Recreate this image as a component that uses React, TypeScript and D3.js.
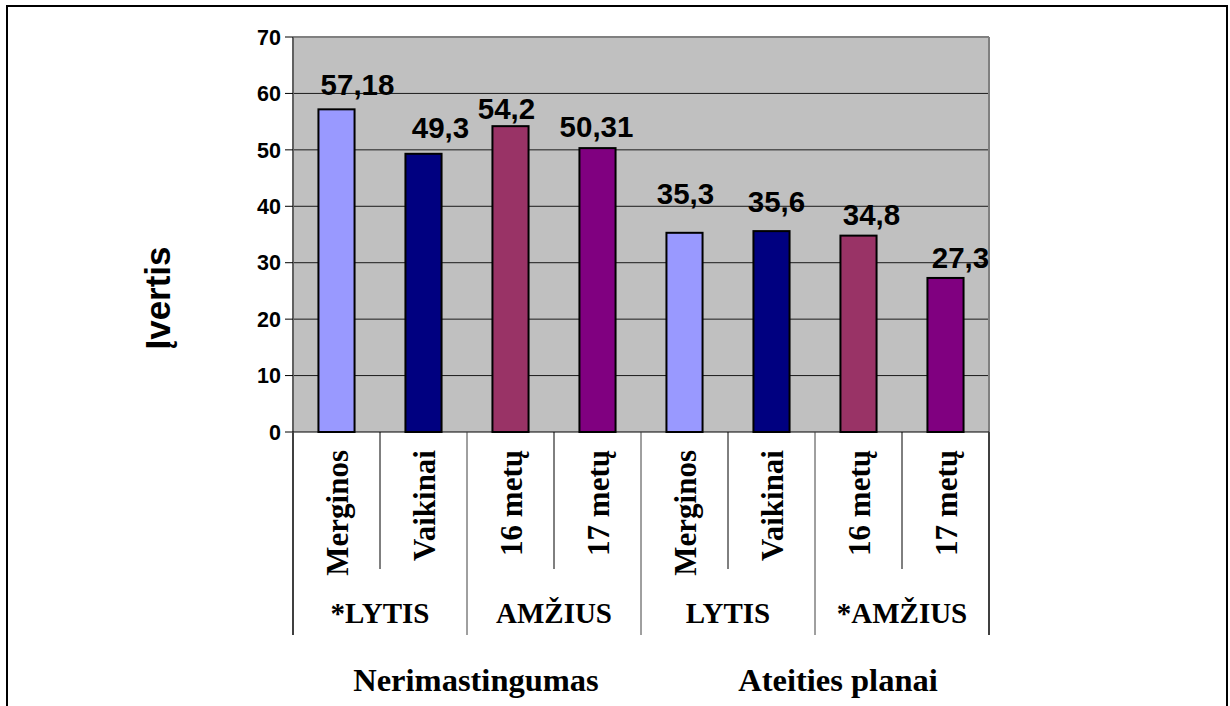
import React from "react";
import * as d3 from "d3";

// Scale values per subgroup
const categories = ["Merginos", "Vaikinai", "16 metų", "17 metų", "Merginos", "Vaikinai", "16 metų", "17 metų"];
const values = [57.18, 49.3, 54.2, 50.31, 35.3, 35.6, 34.8, 27.3];
const valueLabels = ["57,18", "49,3", "54,2", "50,31", "35,3", "35,6", "34,8", "27,3"];
const subgroups = ["*LYTIS", "AMŽIUS", "LYTIS", "*AMŽIUS"];
const groups = ["Nerimastingumas", "Ateities planai"];
const yTicks = [0, 10, 20, 30, 40, 50, 60, 70];

// Presentation
const barColors = ["#9999FF", "#000080", "#993366", "#800080", "#9999FF", "#000080", "#993366", "#800080"];
const labelNudge: [number, number][] = [
  [21, -14], [17, -16], [-4, -7], [-1, -11], [1, -29], [5, -19], [13, -11], [15, -10],
];
const groupTitleNudge = [9, 23];

const W = 1230;
const H = 706;
const plot = { left: 293, right: 989, top: 37, bottom: 432 };

export default function App() {
  const x = d3.scaleBand<number>().domain(d3.range(categories.length)).range([plot.left, plot.right]).padding(0);
  const y = d3.scaleLinear().domain([0, 70]).range([plot.bottom, plot.top]);
  const bw = x.bandwidth();
  const barW = bw * 0.415;

  const serif = "'Liberation Serif', 'Times New Roman', serif";
  const sans = "'Liberation Sans', Arial, sans-serif";

  return (
    <svg width={W} height={H} style={{ position: "absolute", left: 0, top: 0, background: "#fff" }}>
      {/* outer frame */}
      <rect x={7} y={6} width={1220} height={900} fill="#fff" stroke="#000" strokeWidth={2} />

      {/* plot area */}
      <rect x={plot.left} y={plot.top} width={plot.right - plot.left} height={plot.bottom - plot.top} fill="#C0C0C0" />
      {yTicks.filter((t) => t > 0 && t < 70).map((t) => (
        <line key={t} x1={plot.left} x2={plot.right} y1={y(t)} y2={y(t)} stroke="#1a1a1a" strokeWidth={1} />
      ))}
      <line x1={plot.left} x2={plot.right} y1={plot.top} y2={plot.top} stroke="#808080" strokeWidth={2} />
      <line x1={plot.right} x2={plot.right} y1={plot.top} y2={plot.bottom} stroke="#808080" strokeWidth={2} />

      {/* bars */}
      {values.map((v, i) => (
        <rect
          key={i}
          x={(x(i) as number) + bw / 2 - barW / 2}
          y={y(v)}
          width={barW}
          height={y(0) - y(v)}
          fill={barColors[i]}
          stroke="#000"
          strokeWidth={2}
        />
      ))}

      {/* value labels */}
      {values.map((v, i) => (
        <text
          key={i}
          x={(x(i) as number) + bw / 2 + labelNudge[i][0]}
          y={y(v) + labelNudge[i][1]}
          textAnchor="middle"
          fontFamily={sans}
          fontWeight="bold"
          fontSize={29.5}
          fill="#000"
        >
          {valueLabels[i]}
        </text>
      ))}

      {/* y axis */}
      <line x1={plot.left} x2={plot.left} y1={plot.top} y2={plot.bottom} stroke="#606060" strokeWidth={2} />
      {yTicks.map((t) => (
        <g key={t}>
          <line x1={plot.left - 8} x2={plot.left} y1={y(t)} y2={y(t)} stroke="#000" strokeWidth={1} />
          <text
            x={plot.left - 12}
            y={y(t)}
            dy="0.36em"
            textAnchor="end"
            fontFamily={sans}
            fontWeight="bold"
            fontSize={21.5}
            fill="#000"
          >
            {t}
          </text>
        </g>
      ))}
      <text
        transform={`translate(${170},${298}) rotate(-90)`}
        textAnchor="middle"
        fontFamily={sans}
        fontWeight="bold"
        fontSize={35}
        fill="#000"
      >
        Įvertis
      </text>

      {/* category axis */}
      <line x1={plot.left} x2={plot.right} y1={plot.bottom} y2={plot.bottom} stroke="#000" strokeWidth={1} />
      {d3.range(categories.length + 1).map((i) => {
        const xx = i < categories.length ? (x(i) as number) : plot.right;
        const isGroupEdge = i % 2 === 0;
        return (
          <line
            key={i}
            x1={xx}
            x2={xx}
            y1={plot.bottom}
            y2={isGroupEdge ? 635 : 569}
            stroke={isGroupEdge ? "#404040" : "#000"}
            strokeWidth={isGroupEdge && (i === 0 || i === categories.length) ? 2 : 1}
          />
        );
      })}
      {categories.map((c, i) => (
        <text
          key={i}
          transform={`translate(${(x(i) as number) + bw / 2 + 1},${450}) rotate(-90)`}
          dy="0.33em"
          textAnchor="end"
          fontFamily={serif}
          fontWeight="bold"
          fontSize={31}
          fill="#000"
        >
          {c}
        </text>
      ))}
      {subgroups.map((s, j) => (
        <text
          key={s}
          x={(x(j * 2) as number) + bw}
          y={623}
          textAnchor="middle"
          fontFamily={serif}
          fontWeight="bold"
          fontSize={29}
          fill="#000"
        >
          {s}
        </text>
      ))}
      {groups.map((g, k) => (
        <text
          key={g}
          x={(x(k * 4) as number) + bw * 2 + groupTitleNudge[k]}
          y={691}
          textAnchor="middle"
          fontFamily={serif}
          fontWeight="bold"
          fontSize={32.5}
          fill="#000"
        >
          {g}
        </text>
      ))}
    </svg>
  );
}
